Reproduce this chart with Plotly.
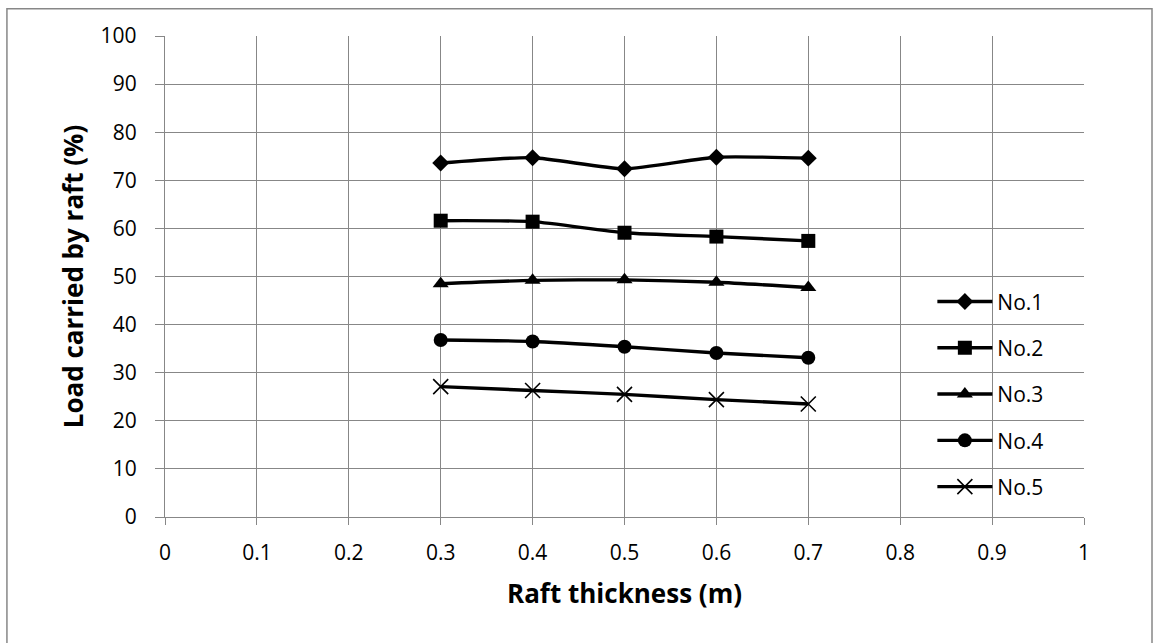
import plotly.graph_objects as go

# Raft thickness (m) and share of load carried by the raft (%) per case
thickness = [0.3, 0.4, 0.5, 0.6, 0.7]
no1 = [73.6, 74.7, 72.4, 74.8, 74.6]
no2 = [61.6, 61.4, 59.1, 58.3, 57.4]
no3 = [48.5, 49.2, 49.3, 48.8, 47.7]
no4 = [36.8, 36.5, 35.4, 34.1, 33.1]
no5 = [27.1, 26.3, 25.5, 24.4, 23.5]

series_names = ["No.1", "No.2", "No.3", "No.4", "No.5"]
series_values = [no1, no2, no3, no4, no5]
symbols = ["diamond", "square", "triangle-up", "circle", "x-thin"]
sizes = [13, 14, 14, 14, 15]

x_ticks = [0, 0.1, 0.2, 0.3, 0.4, 0.5, 0.6, 0.7, 0.8, 0.9, 1]
x_tick_labels = ["0", "0.1", "0.2", "0.3", "0.4", "0.5", "0.6", "0.7", "0.8", "0.9", "1"]
y_ticks = list(range(0, 101, 10))

FONT = "Open Sans, Noto Sans, sans-serif"
GRID = "#878787"

fig = go.Figure()
for name, vals, sym, sz in zip(series_names, series_values, symbols, sizes):
    marker = dict(symbol=sym, size=sz, color="black")
    if sym == "x-thin":
        marker["line"] = dict(color="black", width=1.6)
    fig.add_trace(go.Scatter(
        x=thickness, y=vals, name=name, legendgroup=name,
        mode="lines+markers",
        line=dict(color="black", width=3.4, shape="spline", smoothing=0.6),
        marker=marker,
    ))

fig.update_layout(
    width=1153, height=643,
    margin=dict(l=165, r=69, t=36, b=126),
    paper_bgcolor="white", plot_bgcolor="white",
    font=dict(family=FONT, size=21, color="black"),
    showlegend=True,
    legend=dict(
        x=0.835, y=0.49, xanchor="left", yanchor="top",
        bgcolor="rgba(0,0,0,0)", borderwidth=0,
        font=dict(family=FONT, size=21, color="black"),
        tracegroupgap=16, itemwidth=55,
    ),
    xaxis=dict(
        range=[0, 1], tickvals=x_ticks, ticktext=x_tick_labels,
        showgrid=True, gridcolor=GRID, gridwidth=1.3,
        showline=True, linecolor=GRID, linewidth=1.3,
        ticks="outside", ticklen=7, tickcolor=GRID, tickwidth=1.3,
        ticklabelstandoff=10,
        zeroline=False, mirror=False,
        title=dict(text="<b>Raft thickness (m)</b>", font=dict(family=FONT, size=26), standoff=19),
        tickfont=dict(family=FONT, size=21),
    ),
    yaxis=dict(
        range=[0, 100], tickvals=y_ticks,
        showgrid=True, gridcolor=GRID, gridwidth=1.3,
        showline=True, linecolor=GRID, linewidth=1.3,
        ticks="outside", ticklen=9, tickcolor=GRID, tickwidth=1.3,
        ticklabelstandoff=14,
        zeroline=False,
        title=dict(text="<b>Load carried by raft (%)</b>", font=dict(family=FONT, size=26), standoff=9),
        tickfont=dict(family=FONT, size=21),
    ),
)

# Chart-area frame
fig.add_shape(type="rect", xref="paper", yref="paper",
              x0=-0.172, x1=1.074, y0=-0.30, y1=1.0565,
              line=dict(color=GRID, width=1.5), fillcolor="rgba(0,0,0,0)", layer="below")

fig.write_html("out.html")
